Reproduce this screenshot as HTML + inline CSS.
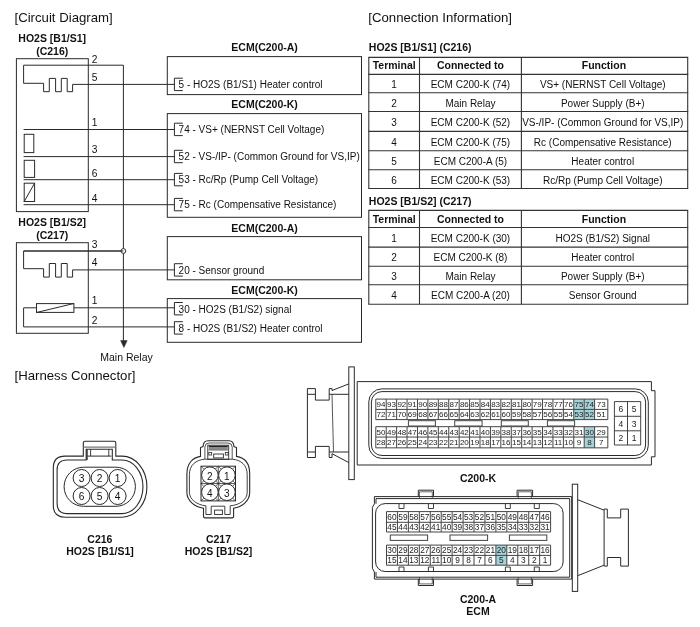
<!DOCTYPE html>
<html><head><meta charset="utf-8"><style>
html,body{margin:0;padding:0;background:#fff;}
svg{display:block;will-change:transform;}
</style></head><body>
<svg width="700" height="627" viewBox="0 0 700 627" font-family="'Liberation Sans', sans-serif">
<rect x="0" y="0" width="700" height="627" fill="#fff"/>
<text x="14.5" y="22.2" font-size="13.2" text-anchor="start" fill="#111">[Circuit Diagram]</text>
<text x="368.3" y="22.2" font-size="13.2" text-anchor="start" fill="#111">[Connection Information]</text>
<text x="14.5" y="380.3" font-size="13.2" text-anchor="start" fill="#111">[Harness Connector]</text>
<text x="52.2" y="41.8" font-size="10.5" font-weight="bold" text-anchor="middle" fill="#111">HO2S [B1/S1]</text>
<text x="52.2" y="54.6" font-size="10.5" font-weight="bold" text-anchor="middle" fill="#111">(C216)</text>
<text x="52.2" y="226.3" font-size="10.5" font-weight="bold" text-anchor="middle" fill="#111">HO2S [B1/S2]</text>
<text x="52.2" y="239.0" font-size="10.5" font-weight="bold" text-anchor="middle" fill="#111">(C217)</text>
<rect x="16.4" y="58.7" width="71.9" height="152.9" stroke="#2a2a2a" stroke-width="1" fill="none"/>
<rect x="16.4" y="242.7" width="71.9" height="90.6" stroke="#2a2a2a" stroke-width="1" fill="none"/>
<text x="91.8" y="62.8" font-size="10.2" text-anchor="start" fill="#111">2</text>
<text x="91.8" y="80.5" font-size="10.2" text-anchor="start" fill="#111">5</text>
<text x="91.8" y="125.8" font-size="10.2" text-anchor="start" fill="#111">1</text>
<text x="91.8" y="152.6" font-size="10.2" text-anchor="start" fill="#111">3</text>
<text x="91.8" y="177.0" font-size="10.2" text-anchor="start" fill="#111">6</text>
<text x="91.8" y="201.5" font-size="10.2" text-anchor="start" fill="#111">4</text>
<text x="91.8" y="247.8" font-size="10.2" text-anchor="start" fill="#111">3</text>
<text x="91.8" y="266.0" font-size="10.2" text-anchor="start" fill="#111">4</text>
<text x="91.8" y="304.3" font-size="10.2" text-anchor="start" fill="#111">1</text>
<text x="91.8" y="323.5" font-size="10.2" text-anchor="start" fill="#111">2</text>
<path d="M123.4,65.2 H23.6 V83.3 H43.6 V91.7 H49.3 V78.4 H55.6 V91.7 H61.3 V78.4 H67.2 V91.7 H72.6 V84.4 H174.4" stroke="#2a2a2a" stroke-width="1" fill="none"/>
<line x1="123.4" y1="65.2" x2="123.4" y2="341" stroke="#2a2a2a" stroke-width="1"/>
<path d="M120.6,340.6 L127.2,340.6 L123.9,347.6 Z" stroke="#2a2a2a" stroke-width="0.5" fill="#2a2a2a"/>
<text x="126.5" y="360.6" font-size="10.5" text-anchor="middle" fill="#111">Main Relay</text>
<line x1="23.6" y1="129.5" x2="174.4" y2="129.5" stroke="#2a2a2a" stroke-width="1"/>
<line x1="23.6" y1="156.6" x2="174.4" y2="156.6" stroke="#2a2a2a" stroke-width="1"/>
<line x1="23.6" y1="179.7" x2="174.4" y2="179.7" stroke="#2a2a2a" stroke-width="1"/>
<line x1="23.6" y1="204.7" x2="174.4" y2="204.7" stroke="#2a2a2a" stroke-width="1"/>
<rect x="24.2" y="134.3" width="9.6" height="18.3" stroke="#2a2a2a" stroke-width="1" fill="none"/>
<rect x="24.2" y="160.3" width="10.4" height="17.1" stroke="#2a2a2a" stroke-width="1" fill="none"/>
<rect x="24.2" y="183.2" width="10.4" height="18.3" stroke="#2a2a2a" stroke-width="1" fill="none"/>
<line x1="24.2" y1="201.5" x2="34.6" y2="183.2" stroke="#2a2a2a" stroke-width="1"/>
<line x1="23.6" y1="251" x2="121" y2="251" stroke="#2a2a2a" stroke-width="1"/>
<circle cx="123.4" cy="251" r="2.4" stroke="#2a2a2a" stroke-width="1" fill="#fff"/>
<path d="M123.4,251 H23.6 V268.7 H43.6 V277.1 H49.3 V263.5 H55.6 V277.1 H61.3 V263.5 H67.2 V277.1 H72.6 V269.9 H174.4" stroke="#2a2a2a" stroke-width="1" fill="none"/>
<rect x="36.5" y="303.6" width="37.4" height="8.8" stroke="#2a2a2a" stroke-width="1" fill="none"/>
<line x1="36.9" y1="312.4" x2="73.5" y2="303.6" stroke="#2a2a2a" stroke-width="1"/>
<line x1="23.6" y1="307.8" x2="36.5" y2="307.8" stroke="#2a2a2a" stroke-width="1"/>
<line x1="73.9" y1="307.8" x2="174.4" y2="307.8" stroke="#2a2a2a" stroke-width="1"/>
<path d="M23.6,307.8 V326.9 H174.4" stroke="#2a2a2a" stroke-width="1" fill="none"/>
<rect x="167.3" y="56.6" width="194.2" height="37.99999999999999" stroke="#2a2a2a" stroke-width="1" fill="none"/>
<text x="264.6" y="51.2" font-size="10.5" font-weight="bold" text-anchor="middle" fill="#111">ECM(C200-A)</text>
<rect x="167.3" y="113.6" width="194.2" height="103.70000000000002" stroke="#2a2a2a" stroke-width="1" fill="none"/>
<text x="264.6" y="108.1" font-size="10.5" font-weight="bold" text-anchor="middle" fill="#111">ECM(C200-K)</text>
<rect x="167.3" y="236.6" width="194.2" height="43.20000000000002" stroke="#2a2a2a" stroke-width="1" fill="none"/>
<text x="264.6" y="232.2" font-size="10.5" font-weight="bold" text-anchor="middle" fill="#111">ECM(C200-A)</text>
<rect x="167.3" y="298.6" width="194.2" height="43.69999999999999" stroke="#2a2a2a" stroke-width="1" fill="none"/>
<text x="264.6" y="293.8" font-size="10.5" font-weight="bold" text-anchor="middle" fill="#111">ECM(C200-K)</text>
<path d="M182.8,78.2 H174.4 V90.6 H182.8" stroke="#2a2a2a" stroke-width="1" fill="none"/>
<text x="178.6" y="88.2" font-size="10" text-anchor="start" fill="#111">5 - HO2S (B1/S1) Heater control</text>
<path d="M182.8,123.2 H174.4 V135.6 H182.8" stroke="#2a2a2a" stroke-width="1" fill="none"/>
<text x="178.6" y="133.2" font-size="10" text-anchor="start" fill="#111">74 - VS+ (NERNST Cell Voltage)</text>
<path d="M182.8,150.29999999999998 H174.4 V162.7 H182.8" stroke="#2a2a2a" stroke-width="1" fill="none"/>
<text x="178.6" y="160.29999999999998" font-size="10" text-anchor="start" fill="#111">52 - VS-/IP- (Common Ground for VS,IP)</text>
<path d="M182.8,173.39999999999998 H174.4 V185.79999999999998 H182.8" stroke="#2a2a2a" stroke-width="1" fill="none"/>
<text x="178.6" y="183.39999999999998" font-size="10" text-anchor="start" fill="#111">53 - Rc/Rp (Pump Cell Voltage)</text>
<path d="M182.8,198.39999999999998 H174.4 V210.79999999999998 H182.8" stroke="#2a2a2a" stroke-width="1" fill="none"/>
<text x="178.6" y="208.39999999999998" font-size="10" text-anchor="start" fill="#111">75 - Rc (Compensative Resistance)</text>
<path d="M182.8,263.7 H174.4 V276.1 H182.8" stroke="#2a2a2a" stroke-width="1" fill="none"/>
<text x="178.6" y="273.8" font-size="10" text-anchor="start" fill="#111">20 - Sensor ground</text>
<path d="M182.8,302.5 H174.4 V314.90000000000003 H182.8" stroke="#2a2a2a" stroke-width="1" fill="none"/>
<text x="178.6" y="312.8" font-size="10" text-anchor="start" fill="#111">30 - HO2S (B1/S2) signal</text>
<path d="M182.8,321.7 H174.4 V334.1 H182.8" stroke="#2a2a2a" stroke-width="1" fill="none"/>
<text x="178.6" y="331.59999999999997" font-size="10" text-anchor="start" fill="#111">8 - HO2S (B1/S2) Heater control</text>
<text x="368.8" y="50.7" font-size="10.5" font-weight="bold" text-anchor="start" fill="#111">HO2S [B1/S1] (C216)</text>
<line x1="368.3" y1="57.4" x2="688.2" y2="57.4" stroke="#333" stroke-width="1.1"/>
<line x1="368.3" y1="74.4" x2="688.2" y2="74.4" stroke="#333" stroke-width="1.1"/>
<line x1="368.3" y1="92.7" x2="688.2" y2="92.7" stroke="#333" stroke-width="1.1"/>
<line x1="368.3" y1="111.5" x2="688.2" y2="111.5" stroke="#333" stroke-width="1.1"/>
<line x1="368.3" y1="131.4" x2="688.2" y2="131.4" stroke="#333" stroke-width="1.1"/>
<line x1="368.3" y1="150.7" x2="688.2" y2="150.7" stroke="#333" stroke-width="1.1"/>
<line x1="368.3" y1="169.7" x2="688.2" y2="169.7" stroke="#333" stroke-width="1.1"/>
<line x1="368.3" y1="188.5" x2="688.2" y2="188.5" stroke="#333" stroke-width="1.1"/>
<line x1="368.8" y1="57.4" x2="368.8" y2="188.5" stroke="#333" stroke-width="1.1"/>
<line x1="419.5" y1="57.4" x2="419.5" y2="188.5" stroke="#333" stroke-width="1.1"/>
<line x1="521.4" y1="57.4" x2="521.4" y2="188.5" stroke="#333" stroke-width="1.1"/>
<line x1="687.7" y1="57.4" x2="687.7" y2="188.5" stroke="#333" stroke-width="1.1"/>
<text x="394.15" y="69.0" font-size="10.5" font-weight="bold" text-anchor="middle" fill="#111">Terminal</text>
<text x="470.45" y="69.0" font-size="10.5" font-weight="bold" text-anchor="middle" fill="#111">Connected to</text>
<text x="603.9499999999999" y="69.0" font-size="10.5" font-weight="bold" text-anchor="middle" fill="#111">Function</text>
<text x="394.15" y="88.05000000000001" font-size="10" text-anchor="middle" fill="#111">1</text>
<text x="470.45" y="88.05000000000001" font-size="10" text-anchor="middle" fill="#111">ECM C200-K (74)</text>
<text x="602.75" y="88.05000000000001" font-size="10" text-anchor="middle" fill="#111">VS+ (NERNST Cell Voltage)</text>
<text x="394.15" y="106.6" font-size="10" text-anchor="middle" fill="#111">2</text>
<text x="470.45" y="106.6" font-size="10" text-anchor="middle" fill="#111">Main Relay</text>
<text x="602.75" y="106.6" font-size="10" text-anchor="middle" fill="#111">Power Supply (B+)</text>
<text x="394.15" y="125.95" font-size="10" text-anchor="middle" fill="#111">3</text>
<text x="470.45" y="125.95" font-size="10" text-anchor="middle" fill="#111">ECM C200-K (52)</text>
<text x="602.75" y="125.95" font-size="10" text-anchor="middle" fill="#111">VS-/IP- (Common Ground for VS,IP)</text>
<text x="394.15" y="145.55" font-size="10" text-anchor="middle" fill="#111">4</text>
<text x="470.45" y="145.55" font-size="10" text-anchor="middle" fill="#111">ECM C200-K (75)</text>
<text x="602.75" y="145.55" font-size="10" text-anchor="middle" fill="#111">Rc (Compensative Resistance)</text>
<text x="394.15" y="164.7" font-size="10" text-anchor="middle" fill="#111">5</text>
<text x="470.45" y="164.7" font-size="10" text-anchor="middle" fill="#111">ECM C200-A (5)</text>
<text x="602.75" y="164.7" font-size="10" text-anchor="middle" fill="#111">Heater control</text>
<text x="394.15" y="183.6" font-size="10" text-anchor="middle" fill="#111">6</text>
<text x="470.45" y="183.6" font-size="10" text-anchor="middle" fill="#111">ECM C200-K (53)</text>
<text x="602.75" y="183.6" font-size="10" text-anchor="middle" fill="#111">Rc/Rp (Pump Cell Voltage)</text>
<text x="368.8" y="205.2" font-size="10.5" font-weight="bold" text-anchor="start" fill="#111">HO2S [B1/S2] (C217)</text>
<line x1="368.3" y1="210.4" x2="688.2" y2="210.4" stroke="#333" stroke-width="1.1"/>
<line x1="368.3" y1="227.5" x2="688.2" y2="227.5" stroke="#333" stroke-width="1.1"/>
<line x1="368.3" y1="247.1" x2="688.2" y2="247.1" stroke="#333" stroke-width="1.1"/>
<line x1="368.3" y1="266.2" x2="688.2" y2="266.2" stroke="#333" stroke-width="1.1"/>
<line x1="368.3" y1="284.8" x2="688.2" y2="284.8" stroke="#333" stroke-width="1.1"/>
<line x1="368.3" y1="304.2" x2="688.2" y2="304.2" stroke="#333" stroke-width="1.1"/>
<line x1="368.8" y1="210.4" x2="368.8" y2="304.2" stroke="#333" stroke-width="1.1"/>
<line x1="419.5" y1="210.4" x2="419.5" y2="304.2" stroke="#333" stroke-width="1.1"/>
<line x1="521.4" y1="210.4" x2="521.4" y2="304.2" stroke="#333" stroke-width="1.1"/>
<line x1="687.7" y1="210.4" x2="687.7" y2="304.2" stroke="#333" stroke-width="1.1"/>
<text x="394.15" y="223.14999999999998" font-size="10.5" font-weight="bold" text-anchor="middle" fill="#111">Terminal</text>
<text x="470.45" y="223.14999999999998" font-size="10.5" font-weight="bold" text-anchor="middle" fill="#111">Connected to</text>
<text x="603.9499999999999" y="223.14999999999998" font-size="10.5" font-weight="bold" text-anchor="middle" fill="#111">Function</text>
<text x="394.15" y="241.8" font-size="10" text-anchor="middle" fill="#111">1</text>
<text x="470.45" y="241.8" font-size="10" text-anchor="middle" fill="#111">ECM C200-K (30)</text>
<text x="602.75" y="241.8" font-size="10" text-anchor="middle" fill="#111">HO2S (B1/S2) Signal</text>
<text x="394.15" y="261.15" font-size="10" text-anchor="middle" fill="#111">2</text>
<text x="470.45" y="261.15" font-size="10" text-anchor="middle" fill="#111">ECM C200-K (8)</text>
<text x="602.75" y="261.15" font-size="10" text-anchor="middle" fill="#111">Heater control</text>
<text x="394.15" y="280.0" font-size="10" text-anchor="middle" fill="#111">3</text>
<text x="470.45" y="280.0" font-size="10" text-anchor="middle" fill="#111">Main Relay</text>
<text x="602.75" y="280.0" font-size="10" text-anchor="middle" fill="#111">Power Supply (B+)</text>
<text x="394.15" y="299.0" font-size="10" text-anchor="middle" fill="#111">4</text>
<text x="470.45" y="299.0" font-size="10" text-anchor="middle" fill="#111">ECM C200-A (20)</text>
<text x="602.75" y="299.0" font-size="10" text-anchor="middle" fill="#111">Sensor Ground</text>
<path d="M53.3,468 Q53.3,456.1 65,456.1 H83.3 V442.8 Q83.3,441.2 85,441.2 H114.1 Q115.8,441.2 115.8,442.8 V456.1 H122 A24.9,30.55 0 0 1 122,517.2 H65 Q53.3,517.2 53.3,505.5 Z" stroke="#2a2a2a" stroke-width="1.1" fill="none"/>
<path d="M57.1,470 Q57.1,460 67,460 H86.2 V449.2 H112.3 V460 H122 A21,26.8 0 0 1 122,513.6 H67 Q57.1,513.6 57.1,503.6 Z" stroke="#2a2a2a" stroke-width="1.1" fill="none"/>
<line x1="83.3" y1="447.1" x2="115.8" y2="447.1" stroke="#777" stroke-width="1.3"/>
<line x1="87" y1="449.2" x2="87" y2="460" stroke="#2a2a2a" stroke-width="1.4"/>
<line x1="90.6" y1="449.2" x2="90.6" y2="456.1" stroke="#2a2a2a" stroke-width="0.9"/>
<line x1="108.8" y1="449.2" x2="108.8" y2="456.1" stroke="#2a2a2a" stroke-width="0.9"/>
<line x1="87.4" y1="456.1" x2="111.3" y2="456.1" stroke="#2a2a2a" stroke-width="1"/>
<rect x="64.1" y="467.2" width="71.3" height="39.1" stroke="#2a2a2a" stroke-width="1" fill="none" rx="19.5"/>
<circle cx="81.6" cy="478" r="8.5" stroke="#2a2a2a" stroke-width="1" fill="#fff"/>
<text x="81.6" y="482.1" font-size="10.2" text-anchor="middle" fill="#111">3</text>
<circle cx="99.6" cy="478" r="8.5" stroke="#2a2a2a" stroke-width="1" fill="#fff"/>
<text x="99.6" y="482.1" font-size="10.2" text-anchor="middle" fill="#111">2</text>
<circle cx="117.6" cy="478" r="8.5" stroke="#2a2a2a" stroke-width="1" fill="#fff"/>
<text x="117.6" y="482.1" font-size="10.2" text-anchor="middle" fill="#111">1</text>
<circle cx="81.6" cy="496" r="8.5" stroke="#2a2a2a" stroke-width="1" fill="#fff"/>
<text x="81.6" y="500.1" font-size="10.2" text-anchor="middle" fill="#111">6</text>
<circle cx="99.6" cy="496" r="8.5" stroke="#2a2a2a" stroke-width="1" fill="#fff"/>
<text x="99.6" y="500.1" font-size="10.2" text-anchor="middle" fill="#111">5</text>
<circle cx="117.6" cy="496" r="8.5" stroke="#2a2a2a" stroke-width="1" fill="#fff"/>
<text x="117.6" y="500.1" font-size="10.2" text-anchor="middle" fill="#111">4</text>
<text x="99.9" y="542.6" font-size="10.5" font-weight="bold" text-anchor="middle" fill="#111">C216</text>
<text x="100" y="555.4" font-size="10.5" font-weight="bold" text-anchor="middle" fill="#111">HO2S [B1/S1]</text>
<path d="M200.5,456.4 V447.5 L203,446.5 Q203.5,440.7 208,440.7 H229 Q233.5,440.7 234,446.5 L236.5,447.5 V456.4 C244,457.5 249.7,463 249.7,474 V492.6 C249.7,501 242,507 233.6,508.2 V516.4 Q233.6,517.9 231.2,517.9 H205.9 Q203.5,517.9 203.5,516.4 V508.2 C195,507 186.9,501 186.9,492.6 V474 C186.9,463 193,457.5 200.5,456.4 Z" stroke="#2a2a2a" stroke-width="1.1" fill="none"/>
<path d="M204.5,459.2 H232.5 C241,460 247.2,465 247.2,474.5 V492.3 C247.2,499.5 240,505 230.2,505.8 V514.5 H224.8 V506.2 H211.2 V514.5 H205.9 V505.8 C197,505 189.4,499.5 189.4,492.3 V474.5 C189.4,465 196,460 204.5,459.2 Z" stroke="#2a2a2a" stroke-width="0.9" fill="none"/>
<path d="M204.9,459.2 V447 Q205,443 209,443 H228 Q232,443 232.2,447 V459.2" stroke="#2a2a2a" stroke-width="0.8" fill="none"/>
<rect x="207.8" y="445.2" width="20.9" height="14.1" stroke="#2a2a2a" stroke-width="0.9" fill="none"/>
<rect x="208.8" y="445.7" width="19" height="1.3" stroke="#2a2a2a" stroke-width="0" fill="#222"/>
<rect x="208.8" y="447" width="19" height="2.2" stroke="#2a2a2a" stroke-width="0" fill="#8a8a8a"/>
<line x1="208.8" y1="449.9" x2="227.8" y2="449.9" stroke="#2a2a2a" stroke-width="0.9"/>
<rect x="208.8" y="452.5" width="2.9" height="2.5" stroke="#2a2a2a" stroke-width="0.8" fill="none"/>
<rect x="225.3" y="452.5" width="2.9" height="2.5" stroke="#2a2a2a" stroke-width="0.8" fill="none"/>
<rect x="213.7" y="454" width="9.7" height="3.9" stroke="#2a2a2a" stroke-width="0.9" fill="none"/>
<rect x="214.6" y="510.1" width="7.8" height="4.4" stroke="#2a2a2a" stroke-width="0.9" fill="none"/>
<rect x="201" y="466.2" width="34.5" height="34.7" stroke="#2a2a2a" stroke-width="1" fill="none"/>
<line x1="218.25" y1="466.2" x2="218.25" y2="500.9" stroke="#2a2a2a" stroke-width="0.8"/>
<line x1="201" y1="483.55" x2="235.5" y2="483.55" stroke="#2a2a2a" stroke-width="0.8"/>
<line x1="201" y1="466.2" x2="218.25" y2="483.55" stroke="#2a2a2a" stroke-width="0.7"/>
<line x1="218.25" y1="466.2" x2="201" y2="483.55" stroke="#2a2a2a" stroke-width="0.7"/>
<line x1="218.25" y1="466.2" x2="235.5" y2="483.55" stroke="#2a2a2a" stroke-width="0.7"/>
<line x1="235.5" y1="466.2" x2="218.25" y2="483.55" stroke="#2a2a2a" stroke-width="0.7"/>
<line x1="201" y1="483.55" x2="218.25" y2="500.9" stroke="#2a2a2a" stroke-width="0.7"/>
<line x1="218.25" y1="483.55" x2="201" y2="500.9" stroke="#2a2a2a" stroke-width="0.7"/>
<line x1="218.25" y1="483.55" x2="235.5" y2="500.9" stroke="#2a2a2a" stroke-width="0.7"/>
<line x1="235.5" y1="483.55" x2="218.25" y2="500.9" stroke="#2a2a2a" stroke-width="0.7"/>
<circle cx="209.9" cy="475.2" r="8.3" stroke="#2a2a2a" stroke-width="1" fill="#fff"/>
<text x="209.9" y="479.7" font-size="10" text-anchor="middle" fill="#111">2</text>
<circle cx="226.9" cy="475.2" r="8.3" stroke="#2a2a2a" stroke-width="1" fill="#fff"/>
<text x="226.9" y="479.7" font-size="10" text-anchor="middle" fill="#111">1</text>
<circle cx="209.9" cy="492.2" r="8.3" stroke="#2a2a2a" stroke-width="1" fill="#fff"/>
<text x="209.9" y="496.7" font-size="10" text-anchor="middle" fill="#111">4</text>
<circle cx="226.9" cy="492.2" r="8.3" stroke="#2a2a2a" stroke-width="1" fill="#fff"/>
<text x="226.9" y="496.7" font-size="10" text-anchor="middle" fill="#111">3</text>
<text x="218.5" y="542.5" font-size="10.5" font-weight="bold" text-anchor="middle" fill="#111">C217</text>
<text x="218.5" y="555.3" font-size="10.5" font-weight="bold" text-anchor="middle" fill="#111">HO2S [B1/S2]</text>
<rect x="348.8" y="366.9" width="5.5" height="112.7" stroke="#2a2a2a" stroke-width="1" fill="none"/>
<path d="M357.2,381.6 H651.4 V390.7 H655 V456.8 H651.4 V465 H357.2 Z" stroke="#2a2a2a" stroke-width="1" fill="none"/>
<rect x="368.8" y="388.9" width="279.5" height="69.5" stroke="#2a2a2a" stroke-width="1" fill="none" rx="13"/>
<rect x="371.4" y="391.6" width="274.2" height="63.9" stroke="#2a2a2a" stroke-width="1" fill="none" rx="10.5"/>
<path d="M348.8,383.9 L332,390.5 V388.6 H329.2 V400.1 H315.4 V388.6 H307.4 V457.5 H315.4 V446.4 H329.2 V457.5 H332 V453.7 L348.8,462.6" stroke="#2a2a2a" stroke-width="1" fill="none"/>
<line x1="307.4" y1="394.3" x2="315.4" y2="394.3" stroke="#2a2a2a" stroke-width="1"/>
<line x1="329.2" y1="394.3" x2="348.8" y2="394.3" stroke="#2a2a2a" stroke-width="1"/>
<line x1="307.4" y1="452" x2="315.4" y2="452" stroke="#2a2a2a" stroke-width="1"/>
<line x1="329.2" y1="452" x2="348.8" y2="452" stroke="#2a2a2a" stroke-width="1"/>
<line x1="332" y1="394.3" x2="333.5" y2="452" stroke="#2a2a2a" stroke-width="0.8"/>
<rect x="573.78" y="399.1" width="10.420000000000073" height="10.299999999999955" fill="#a3d2da"/>
<rect x="584.2" y="399.1" width="10.419999999999959" height="10.299999999999955" fill="#a3d2da"/>
<rect x="573.78" y="409.4" width="10.420000000000073" height="10.200000000000045" fill="#a3d2da"/>
<rect x="584.2" y="409.4" width="10.419999999999959" height="10.200000000000045" fill="#a3d2da"/>
<line x1="375.8" y1="399.1" x2="607.82" y2="399.1" stroke="#444" stroke-width="1"/>
<line x1="375.8" y1="409.4" x2="607.82" y2="409.4" stroke="#444" stroke-width="1"/>
<line x1="375.8" y1="419.6" x2="607.82" y2="419.6" stroke="#444" stroke-width="1"/>
<line x1="375.8" y1="399.1" x2="375.8" y2="419.6" stroke="#444" stroke-width="1"/>
<line x1="386.22" y1="399.1" x2="386.22" y2="419.6" stroke="#444" stroke-width="1"/>
<line x1="396.64" y1="399.1" x2="396.64" y2="419.6" stroke="#444" stroke-width="1"/>
<line x1="407.06" y1="399.1" x2="407.06" y2="419.6" stroke="#444" stroke-width="1"/>
<line x1="417.48" y1="399.1" x2="417.48" y2="419.6" stroke="#444" stroke-width="1"/>
<line x1="427.90000000000003" y1="399.1" x2="427.90000000000003" y2="419.6" stroke="#444" stroke-width="1"/>
<line x1="438.32" y1="399.1" x2="438.32" y2="419.6" stroke="#444" stroke-width="1"/>
<line x1="448.74" y1="399.1" x2="448.74" y2="419.6" stroke="#444" stroke-width="1"/>
<line x1="459.16" y1="399.1" x2="459.16" y2="419.6" stroke="#444" stroke-width="1"/>
<line x1="469.58000000000004" y1="399.1" x2="469.58000000000004" y2="419.6" stroke="#444" stroke-width="1"/>
<line x1="480.0" y1="399.1" x2="480.0" y2="419.6" stroke="#444" stroke-width="1"/>
<line x1="490.42" y1="399.1" x2="490.42" y2="419.6" stroke="#444" stroke-width="1"/>
<line x1="500.84000000000003" y1="399.1" x2="500.84000000000003" y2="419.6" stroke="#444" stroke-width="1"/>
<line x1="511.26" y1="399.1" x2="511.26" y2="419.6" stroke="#444" stroke-width="1"/>
<line x1="521.6800000000001" y1="399.1" x2="521.6800000000001" y2="419.6" stroke="#444" stroke-width="1"/>
<line x1="532.1" y1="399.1" x2="532.1" y2="419.6" stroke="#444" stroke-width="1"/>
<line x1="542.52" y1="399.1" x2="542.52" y2="419.6" stroke="#444" stroke-width="1"/>
<line x1="552.94" y1="399.1" x2="552.94" y2="419.6" stroke="#444" stroke-width="1"/>
<line x1="563.36" y1="399.1" x2="563.36" y2="419.6" stroke="#444" stroke-width="1"/>
<line x1="573.78" y1="399.1" x2="573.78" y2="419.6" stroke="#444" stroke-width="1"/>
<line x1="584.2" y1="399.1" x2="584.2" y2="419.6" stroke="#444" stroke-width="1"/>
<line x1="594.62" y1="399.1" x2="594.62" y2="419.6" stroke="#444" stroke-width="1"/>
<line x1="607.82" y1="399.1" x2="607.82" y2="419.6" stroke="#444" stroke-width="1"/>
<text x="381.01" y="407.21" font-size="8.0" text-anchor="middle" fill="#222">94</text>
<text x="391.43" y="407.21" font-size="8.0" text-anchor="middle" fill="#222">93</text>
<text x="401.85" y="407.21" font-size="8.0" text-anchor="middle" fill="#222">92</text>
<text x="412.27" y="407.21" font-size="8.0" text-anchor="middle" fill="#222">91</text>
<text x="422.69" y="407.21" font-size="8.0" text-anchor="middle" fill="#222">90</text>
<text x="433.11" y="407.21" font-size="8.0" text-anchor="middle" fill="#222">89</text>
<text x="443.53" y="407.21" font-size="8.0" text-anchor="middle" fill="#222">88</text>
<text x="453.95" y="407.21" font-size="8.0" text-anchor="middle" fill="#222">87</text>
<text x="464.37" y="407.21" font-size="8.0" text-anchor="middle" fill="#222">86</text>
<text x="474.79" y="407.21" font-size="8.0" text-anchor="middle" fill="#222">85</text>
<text x="485.21" y="407.21" font-size="8.0" text-anchor="middle" fill="#222">84</text>
<text x="495.63" y="407.21" font-size="8.0" text-anchor="middle" fill="#222">83</text>
<text x="506.05" y="407.21" font-size="8.0" text-anchor="middle" fill="#222">82</text>
<text x="516.47" y="407.21" font-size="8.0" text-anchor="middle" fill="#222">81</text>
<text x="526.89" y="407.21" font-size="8.0" text-anchor="middle" fill="#222">80</text>
<text x="537.31" y="407.21" font-size="8.0" text-anchor="middle" fill="#222">79</text>
<text x="547.73" y="407.21" font-size="8.0" text-anchor="middle" fill="#222">78</text>
<text x="558.15" y="407.21" font-size="8.0" text-anchor="middle" fill="#222">77</text>
<text x="568.57" y="407.21" font-size="8.0" text-anchor="middle" fill="#222">76</text>
<text x="578.99" y="407.21" font-size="8.0" text-anchor="middle" fill="#222">75</text>
<text x="589.41" y="407.21" font-size="8.0" text-anchor="middle" fill="#222">74</text>
<text x="601.22" y="407.21" font-size="8.0" text-anchor="middle" fill="#222">73</text>
<text x="381.01" y="417.46" font-size="8.0" text-anchor="middle" fill="#222">72</text>
<text x="391.43" y="417.46" font-size="8.0" text-anchor="middle" fill="#222">71</text>
<text x="401.85" y="417.46" font-size="8.0" text-anchor="middle" fill="#222">70</text>
<text x="412.27" y="417.46" font-size="8.0" text-anchor="middle" fill="#222">69</text>
<text x="422.69" y="417.46" font-size="8.0" text-anchor="middle" fill="#222">68</text>
<text x="433.11" y="417.46" font-size="8.0" text-anchor="middle" fill="#222">67</text>
<text x="443.53" y="417.46" font-size="8.0" text-anchor="middle" fill="#222">66</text>
<text x="453.95" y="417.46" font-size="8.0" text-anchor="middle" fill="#222">65</text>
<text x="464.37" y="417.46" font-size="8.0" text-anchor="middle" fill="#222">64</text>
<text x="474.79" y="417.46" font-size="8.0" text-anchor="middle" fill="#222">63</text>
<text x="485.21" y="417.46" font-size="8.0" text-anchor="middle" fill="#222">62</text>
<text x="495.63" y="417.46" font-size="8.0" text-anchor="middle" fill="#222">61</text>
<text x="506.05" y="417.46" font-size="8.0" text-anchor="middle" fill="#222">60</text>
<text x="516.47" y="417.46" font-size="8.0" text-anchor="middle" fill="#222">59</text>
<text x="526.89" y="417.46" font-size="8.0" text-anchor="middle" fill="#222">58</text>
<text x="537.31" y="417.46" font-size="8.0" text-anchor="middle" fill="#222">57</text>
<text x="547.73" y="417.46" font-size="8.0" text-anchor="middle" fill="#222">56</text>
<text x="558.15" y="417.46" font-size="8.0" text-anchor="middle" fill="#222">55</text>
<text x="568.57" y="417.46" font-size="8.0" text-anchor="middle" fill="#222">54</text>
<text x="578.99" y="417.46" font-size="8.0" text-anchor="middle" fill="#222">53</text>
<text x="589.41" y="417.46" font-size="8.0" text-anchor="middle" fill="#222">52</text>
<text x="601.22" y="417.46" font-size="8.0" text-anchor="middle" fill="#222">51</text>
<rect x="584.2" y="426.7" width="10.419999999999959" height="10.350000000000023" fill="#a3d2da"/>
<rect x="584.2" y="437.05" width="10.419999999999959" height="10.800000000000011" fill="#a3d2da"/>
<line x1="375.8" y1="426.7" x2="607.82" y2="426.7" stroke="#444" stroke-width="1"/>
<line x1="375.8" y1="437.05" x2="607.82" y2="437.05" stroke="#444" stroke-width="1"/>
<line x1="375.8" y1="447.85" x2="607.82" y2="447.85" stroke="#444" stroke-width="1"/>
<line x1="375.8" y1="426.7" x2="375.8" y2="447.85" stroke="#444" stroke-width="1"/>
<line x1="386.22" y1="426.7" x2="386.22" y2="447.85" stroke="#444" stroke-width="1"/>
<line x1="396.64" y1="426.7" x2="396.64" y2="447.85" stroke="#444" stroke-width="1"/>
<line x1="407.06" y1="426.7" x2="407.06" y2="447.85" stroke="#444" stroke-width="1"/>
<line x1="417.48" y1="426.7" x2="417.48" y2="447.85" stroke="#444" stroke-width="1"/>
<line x1="427.90000000000003" y1="426.7" x2="427.90000000000003" y2="447.85" stroke="#444" stroke-width="1"/>
<line x1="438.32" y1="426.7" x2="438.32" y2="447.85" stroke="#444" stroke-width="1"/>
<line x1="448.74" y1="426.7" x2="448.74" y2="447.85" stroke="#444" stroke-width="1"/>
<line x1="459.16" y1="426.7" x2="459.16" y2="447.85" stroke="#444" stroke-width="1"/>
<line x1="469.58000000000004" y1="426.7" x2="469.58000000000004" y2="447.85" stroke="#444" stroke-width="1"/>
<line x1="480.0" y1="426.7" x2="480.0" y2="447.85" stroke="#444" stroke-width="1"/>
<line x1="490.42" y1="426.7" x2="490.42" y2="447.85" stroke="#444" stroke-width="1"/>
<line x1="500.84000000000003" y1="426.7" x2="500.84000000000003" y2="447.85" stroke="#444" stroke-width="1"/>
<line x1="511.26" y1="426.7" x2="511.26" y2="447.85" stroke="#444" stroke-width="1"/>
<line x1="521.6800000000001" y1="426.7" x2="521.6800000000001" y2="447.85" stroke="#444" stroke-width="1"/>
<line x1="532.1" y1="426.7" x2="532.1" y2="447.85" stroke="#444" stroke-width="1"/>
<line x1="542.52" y1="426.7" x2="542.52" y2="447.85" stroke="#444" stroke-width="1"/>
<line x1="552.94" y1="426.7" x2="552.94" y2="447.85" stroke="#444" stroke-width="1"/>
<line x1="563.36" y1="426.7" x2="563.36" y2="447.85" stroke="#444" stroke-width="1"/>
<line x1="573.78" y1="426.7" x2="573.78" y2="447.85" stroke="#444" stroke-width="1"/>
<line x1="584.2" y1="426.7" x2="584.2" y2="447.85" stroke="#444" stroke-width="1"/>
<line x1="594.62" y1="426.7" x2="594.62" y2="447.85" stroke="#444" stroke-width="1"/>
<line x1="607.82" y1="426.7" x2="607.82" y2="447.85" stroke="#444" stroke-width="1"/>
<text x="381.01" y="434.83" font-size="8.0" text-anchor="middle" fill="#222">50</text>
<text x="391.43" y="434.83" font-size="8.0" text-anchor="middle" fill="#222">49</text>
<text x="401.85" y="434.83" font-size="8.0" text-anchor="middle" fill="#222">48</text>
<text x="412.27" y="434.83" font-size="8.0" text-anchor="middle" fill="#222">47</text>
<text x="422.69" y="434.83" font-size="8.0" text-anchor="middle" fill="#222">46</text>
<text x="433.11" y="434.83" font-size="8.0" text-anchor="middle" fill="#222">45</text>
<text x="443.53" y="434.83" font-size="8.0" text-anchor="middle" fill="#222">44</text>
<text x="453.95" y="434.83" font-size="8.0" text-anchor="middle" fill="#222">43</text>
<text x="464.37" y="434.83" font-size="8.0" text-anchor="middle" fill="#222">42</text>
<text x="474.79" y="434.83" font-size="8.0" text-anchor="middle" fill="#222">41</text>
<text x="485.21" y="434.83" font-size="8.0" text-anchor="middle" fill="#222">40</text>
<text x="495.63" y="434.83" font-size="8.0" text-anchor="middle" fill="#222">39</text>
<text x="506.05" y="434.83" font-size="8.0" text-anchor="middle" fill="#222">38</text>
<text x="516.47" y="434.83" font-size="8.0" text-anchor="middle" fill="#222">37</text>
<text x="526.89" y="434.83" font-size="8.0" text-anchor="middle" fill="#222">36</text>
<text x="537.31" y="434.83" font-size="8.0" text-anchor="middle" fill="#222">35</text>
<text x="547.73" y="434.83" font-size="8.0" text-anchor="middle" fill="#222">34</text>
<text x="558.15" y="434.83" font-size="8.0" text-anchor="middle" fill="#222">33</text>
<text x="568.57" y="434.83" font-size="8.0" text-anchor="middle" fill="#222">32</text>
<text x="578.99" y="434.83" font-size="8.0" text-anchor="middle" fill="#222">31</text>
<text x="589.41" y="434.83" font-size="8.0" text-anchor="middle" fill="#222">30</text>
<text x="601.22" y="434.83" font-size="8.0" text-anchor="middle" fill="#222">29</text>
<text x="381.01" y="445.41" font-size="8.0" text-anchor="middle" fill="#222">28</text>
<text x="391.43" y="445.41" font-size="8.0" text-anchor="middle" fill="#222">27</text>
<text x="401.85" y="445.41" font-size="8.0" text-anchor="middle" fill="#222">26</text>
<text x="412.27" y="445.41" font-size="8.0" text-anchor="middle" fill="#222">25</text>
<text x="422.69" y="445.41" font-size="8.0" text-anchor="middle" fill="#222">24</text>
<text x="433.11" y="445.41" font-size="8.0" text-anchor="middle" fill="#222">23</text>
<text x="443.53" y="445.41" font-size="8.0" text-anchor="middle" fill="#222">22</text>
<text x="453.95" y="445.41" font-size="8.0" text-anchor="middle" fill="#222">21</text>
<text x="464.37" y="445.41" font-size="8.0" text-anchor="middle" fill="#222">20</text>
<text x="474.79" y="445.41" font-size="8.0" text-anchor="middle" fill="#222">19</text>
<text x="485.21" y="445.41" font-size="8.0" text-anchor="middle" fill="#222">18</text>
<text x="495.63" y="445.41" font-size="8.0" text-anchor="middle" fill="#222">17</text>
<text x="506.05" y="445.41" font-size="8.0" text-anchor="middle" fill="#222">16</text>
<text x="516.47" y="445.41" font-size="8.0" text-anchor="middle" fill="#222">15</text>
<text x="526.89" y="445.41" font-size="8.0" text-anchor="middle" fill="#222">14</text>
<text x="537.31" y="445.41" font-size="8.0" text-anchor="middle" fill="#222">13</text>
<text x="547.73" y="445.41" font-size="8.0" text-anchor="middle" fill="#222">12</text>
<text x="558.15" y="445.41" font-size="8.0" text-anchor="middle" fill="#222">11</text>
<text x="568.57" y="445.41" font-size="8.0" text-anchor="middle" fill="#222">10</text>
<text x="578.99" y="445.41" font-size="8.0" text-anchor="middle" fill="#222">9</text>
<text x="589.41" y="445.41" font-size="8.0" text-anchor="middle" fill="#222">8</text>
<text x="601.22" y="445.41" font-size="8.0" text-anchor="middle" fill="#222">7</text>
<rect x="408.4" y="420.7" width="27.0" height="5.3" stroke="#444" stroke-width="1" fill="none"/>
<rect x="454.7" y="420.7" width="27.400000000000034" height="5.3" stroke="#444" stroke-width="1" fill="none"/>
<rect x="501.3" y="420.7" width="26.999999999999943" height="5.3" stroke="#444" stroke-width="1" fill="none"/>
<rect x="547.4" y="420.7" width="27.200000000000045" height="5.3" stroke="#444" stroke-width="1" fill="none"/>
<line x1="614.4" y1="401.6" x2="614.4" y2="445.0" stroke="#444" stroke-width="1"/>
<line x1="627.5" y1="401.6" x2="627.5" y2="445.0" stroke="#444" stroke-width="1"/>
<line x1="640.7" y1="401.6" x2="640.7" y2="445.0" stroke="#444" stroke-width="1"/>
<line x1="614.4" y1="401.6" x2="640.7" y2="401.6" stroke="#444" stroke-width="1"/>
<line x1="614.4" y1="416.3" x2="640.7" y2="416.3" stroke="#444" stroke-width="1"/>
<line x1="614.4" y1="430.8" x2="640.7" y2="430.8" stroke="#444" stroke-width="1"/>
<line x1="614.4" y1="445.0" x2="640.7" y2="445.0" stroke="#444" stroke-width="1"/>
<text x="620.95" y="411.95000000000005" font-size="8.5" text-anchor="middle" fill="#222">6</text>
<text x="634.1" y="411.95000000000005" font-size="8.5" text-anchor="middle" fill="#222">5</text>
<text x="620.95" y="426.55" font-size="8.5" text-anchor="middle" fill="#222">4</text>
<text x="634.1" y="426.55" font-size="8.5" text-anchor="middle" fill="#222">3</text>
<text x="620.95" y="440.9" font-size="8.5" text-anchor="middle" fill="#222">2</text>
<text x="634.1" y="440.9" font-size="8.5" text-anchor="middle" fill="#222">1</text>
<text x="478" y="482.3" font-size="10.5" font-weight="bold" text-anchor="middle" fill="#111">C200-K</text>
<rect x="572.3" y="484.2" width="5.4" height="107.2" stroke="#2a2a2a" stroke-width="1" fill="none"/>
<path d="M374.4,496.6 H571.7 V579.1 H374.4 V572 L372.4,568.3 V507.4 L374.4,503.8 Z" stroke="#2a2a2a" stroke-width="1" fill="none"/>
<path d="M376,503.8 V498.6 H569.7 V577.2 H376 V572" stroke="#2a2a2a" stroke-width="1" fill="none"/>
<path d="M418.3,496.5 V490.2 H433.5 V496.5" stroke="#2a2a2a" stroke-width="1" fill="none"/>
<path d="M419.5,498.4 V491.8 H432.3 V498.4" stroke="#2a2a2a" stroke-width="0.7" fill="none"/>
<path d="M418.3,579.1 V585.5 H433.5 V579.1" stroke="#2a2a2a" stroke-width="1" fill="none"/>
<path d="M419.5,577.2 V583.9 H432.3 V577.2" stroke="#2a2a2a" stroke-width="0.7" fill="none"/>
<path d="M517.1,496.5 V490.2 H532.6 V496.5" stroke="#2a2a2a" stroke-width="1" fill="none"/>
<path d="M518.3000000000001,498.4 V491.8 H531.4 V498.4" stroke="#2a2a2a" stroke-width="0.7" fill="none"/>
<path d="M517.1,579.1 V585.5 H532.6 V579.1" stroke="#2a2a2a" stroke-width="1" fill="none"/>
<path d="M518.3000000000001,577.2 V583.9 H531.4 V577.2" stroke="#2a2a2a" stroke-width="0.7" fill="none"/>
<rect x="375.6" y="503.6" width="187.5" height="67.9" stroke="#2a2a2a" stroke-width="1" fill="none" rx="9.5"/>
<path d="M399,503.7 V508.5 H404 V503.7" stroke="#2a2a2a" stroke-width="0.9" fill="none"/>
<path d="M399,571.8 V567 H404 V571.8" stroke="#2a2a2a" stroke-width="0.9" fill="none"/>
<path d="M428.4,503.7 V508.5 H433.5 V503.7" stroke="#2a2a2a" stroke-width="0.9" fill="none"/>
<path d="M428.4,571.8 V567 H433.5 V571.8" stroke="#2a2a2a" stroke-width="0.9" fill="none"/>
<path d="M505.4,503.7 V508.5 H510.3 V503.7" stroke="#2a2a2a" stroke-width="0.9" fill="none"/>
<path d="M505.4,571.8 V567 H510.3 V571.8" stroke="#2a2a2a" stroke-width="0.9" fill="none"/>
<path d="M534.3,503.7 V508.5 H539.3 V503.7" stroke="#2a2a2a" stroke-width="0.9" fill="none"/>
<path d="M534.3,571.8 V567 H539.3 V571.8" stroke="#2a2a2a" stroke-width="0.9" fill="none"/>
<path d="M577.7,499.7 L604.1,510.2 V509.1 H607.3 V517.9 H620.7 V509.1 H628.4 V566.1 H620.7 V557.5 H607.3 V566.1 H604.1 V565.2 L577.7,575.7" stroke="#2a2a2a" stroke-width="1" fill="none"/>
<line x1="604.1" y1="510.2" x2="604.1" y2="565.2" stroke="#2a2a2a" stroke-width="1"/>
<line x1="386.5" y1="511.6" x2="550.6" y2="511.6" stroke="#444" stroke-width="1"/>
<line x1="386.5" y1="522.3" x2="550.6" y2="522.3" stroke="#444" stroke-width="1"/>
<line x1="386.5" y1="532" x2="550.6" y2="532" stroke="#444" stroke-width="1"/>
<line x1="386.5" y1="511.6" x2="386.5" y2="532" stroke="#444" stroke-width="1"/>
<line x1="397.44" y1="511.6" x2="397.44" y2="532" stroke="#444" stroke-width="1"/>
<line x1="408.38" y1="511.6" x2="408.38" y2="532" stroke="#444" stroke-width="1"/>
<line x1="419.32" y1="511.6" x2="419.32" y2="532" stroke="#444" stroke-width="1"/>
<line x1="430.26" y1="511.6" x2="430.26" y2="532" stroke="#444" stroke-width="1"/>
<line x1="441.2" y1="511.6" x2="441.2" y2="532" stroke="#444" stroke-width="1"/>
<line x1="452.14" y1="511.6" x2="452.14" y2="532" stroke="#444" stroke-width="1"/>
<line x1="463.08" y1="511.6" x2="463.08" y2="532" stroke="#444" stroke-width="1"/>
<line x1="474.02" y1="511.6" x2="474.02" y2="532" stroke="#444" stroke-width="1"/>
<line x1="484.96" y1="511.6" x2="484.96" y2="532" stroke="#444" stroke-width="1"/>
<line x1="495.9" y1="511.6" x2="495.9" y2="532" stroke="#444" stroke-width="1"/>
<line x1="506.84" y1="511.6" x2="506.84" y2="532" stroke="#444" stroke-width="1"/>
<line x1="517.78" y1="511.6" x2="517.78" y2="532" stroke="#444" stroke-width="1"/>
<line x1="528.72" y1="511.6" x2="528.72" y2="532" stroke="#444" stroke-width="1"/>
<line x1="539.66" y1="511.6" x2="539.66" y2="532" stroke="#444" stroke-width="1"/>
<line x1="550.6" y1="511.6" x2="550.6" y2="532" stroke="#444" stroke-width="1"/>
<text x="391.97" y="520.02" font-size="8.3" text-anchor="middle" fill="#222">60</text>
<text x="402.91" y="520.02" font-size="8.3" text-anchor="middle" fill="#222">59</text>
<text x="413.85" y="520.02" font-size="8.3" text-anchor="middle" fill="#222">58</text>
<text x="424.79" y="520.02" font-size="8.3" text-anchor="middle" fill="#222">57</text>
<text x="435.73" y="520.02" font-size="8.3" text-anchor="middle" fill="#222">56</text>
<text x="446.67" y="520.02" font-size="8.3" text-anchor="middle" fill="#222">55</text>
<text x="457.61" y="520.02" font-size="8.3" text-anchor="middle" fill="#222">54</text>
<text x="468.55" y="520.02" font-size="8.3" text-anchor="middle" fill="#222">53</text>
<text x="479.49" y="520.02" font-size="8.3" text-anchor="middle" fill="#222">52</text>
<text x="490.43" y="520.02" font-size="8.3" text-anchor="middle" fill="#222">51</text>
<text x="501.37" y="520.02" font-size="8.3" text-anchor="middle" fill="#222">50</text>
<text x="512.31" y="520.02" font-size="8.3" text-anchor="middle" fill="#222">49</text>
<text x="523.25" y="520.02" font-size="8.3" text-anchor="middle" fill="#222">48</text>
<text x="534.19" y="520.02" font-size="8.3" text-anchor="middle" fill="#222">47</text>
<text x="545.13" y="520.02" font-size="8.3" text-anchor="middle" fill="#222">46</text>
<text x="391.97" y="530.22" font-size="8.3" text-anchor="middle" fill="#222">45</text>
<text x="402.91" y="530.22" font-size="8.3" text-anchor="middle" fill="#222">44</text>
<text x="413.85" y="530.22" font-size="8.3" text-anchor="middle" fill="#222">43</text>
<text x="424.79" y="530.22" font-size="8.3" text-anchor="middle" fill="#222">42</text>
<text x="435.73" y="530.22" font-size="8.3" text-anchor="middle" fill="#222">41</text>
<text x="446.67" y="530.22" font-size="8.3" text-anchor="middle" fill="#222">40</text>
<text x="457.61" y="530.22" font-size="8.3" text-anchor="middle" fill="#222">39</text>
<text x="468.55" y="530.22" font-size="8.3" text-anchor="middle" fill="#222">38</text>
<text x="479.49" y="530.22" font-size="8.3" text-anchor="middle" fill="#222">37</text>
<text x="490.43" y="530.22" font-size="8.3" text-anchor="middle" fill="#222">36</text>
<text x="501.37" y="530.22" font-size="8.3" text-anchor="middle" fill="#222">35</text>
<text x="512.31" y="530.22" font-size="8.3" text-anchor="middle" fill="#222">34</text>
<text x="523.25" y="530.22" font-size="8.3" text-anchor="middle" fill="#222">33</text>
<text x="534.19" y="530.22" font-size="8.3" text-anchor="middle" fill="#222">32</text>
<text x="545.13" y="530.22" font-size="8.3" text-anchor="middle" fill="#222">31</text>
<rect x="495.9" y="545.1" width="10.939999999999998" height="10.299999999999955" fill="#a3d2da"/>
<rect x="495.9" y="555.4" width="10.939999999999998" height="9.800000000000068" fill="#a3d2da"/>
<line x1="386.5" y1="545.1" x2="550.6" y2="545.1" stroke="#444" stroke-width="1"/>
<line x1="386.5" y1="555.4" x2="550.6" y2="555.4" stroke="#444" stroke-width="1"/>
<line x1="386.5" y1="565.2" x2="550.6" y2="565.2" stroke="#444" stroke-width="1"/>
<line x1="386.5" y1="545.1" x2="386.5" y2="565.2" stroke="#444" stroke-width="1"/>
<line x1="397.44" y1="545.1" x2="397.44" y2="565.2" stroke="#444" stroke-width="1"/>
<line x1="408.38" y1="545.1" x2="408.38" y2="565.2" stroke="#444" stroke-width="1"/>
<line x1="419.32" y1="545.1" x2="419.32" y2="565.2" stroke="#444" stroke-width="1"/>
<line x1="430.26" y1="545.1" x2="430.26" y2="565.2" stroke="#444" stroke-width="1"/>
<line x1="441.2" y1="545.1" x2="441.2" y2="565.2" stroke="#444" stroke-width="1"/>
<line x1="452.14" y1="545.1" x2="452.14" y2="565.2" stroke="#444" stroke-width="1"/>
<line x1="463.08" y1="545.1" x2="463.08" y2="565.2" stroke="#444" stroke-width="1"/>
<line x1="474.02" y1="545.1" x2="474.02" y2="565.2" stroke="#444" stroke-width="1"/>
<line x1="484.96" y1="545.1" x2="484.96" y2="565.2" stroke="#444" stroke-width="1"/>
<line x1="495.9" y1="545.1" x2="495.9" y2="565.2" stroke="#444" stroke-width="1"/>
<line x1="506.84" y1="545.1" x2="506.84" y2="565.2" stroke="#444" stroke-width="1"/>
<line x1="517.78" y1="545.1" x2="517.78" y2="565.2" stroke="#444" stroke-width="1"/>
<line x1="528.72" y1="545.1" x2="528.72" y2="565.2" stroke="#444" stroke-width="1"/>
<line x1="539.66" y1="545.1" x2="539.66" y2="565.2" stroke="#444" stroke-width="1"/>
<line x1="550.6" y1="545.1" x2="550.6" y2="565.2" stroke="#444" stroke-width="1"/>
<text x="391.97" y="553.32" font-size="8.3" text-anchor="middle" fill="#222">30</text>
<text x="402.91" y="553.32" font-size="8.3" text-anchor="middle" fill="#222">29</text>
<text x="413.85" y="553.32" font-size="8.3" text-anchor="middle" fill="#222">28</text>
<text x="424.79" y="553.32" font-size="8.3" text-anchor="middle" fill="#222">27</text>
<text x="435.73" y="553.32" font-size="8.3" text-anchor="middle" fill="#222">26</text>
<text x="446.67" y="553.32" font-size="8.3" text-anchor="middle" fill="#222">25</text>
<text x="457.61" y="553.32" font-size="8.3" text-anchor="middle" fill="#222">24</text>
<text x="468.55" y="553.32" font-size="8.3" text-anchor="middle" fill="#222">23</text>
<text x="479.49" y="553.32" font-size="8.3" text-anchor="middle" fill="#222">22</text>
<text x="490.43" y="553.32" font-size="8.3" text-anchor="middle" fill="#222">21</text>
<text x="501.37" y="553.32" font-size="8.3" text-anchor="middle" fill="#222">20</text>
<text x="512.31" y="553.32" font-size="8.3" text-anchor="middle" fill="#222">19</text>
<text x="523.25" y="553.32" font-size="8.3" text-anchor="middle" fill="#222">18</text>
<text x="534.19" y="553.32" font-size="8.3" text-anchor="middle" fill="#222">17</text>
<text x="545.13" y="553.32" font-size="8.3" text-anchor="middle" fill="#222">16</text>
<text x="391.97" y="563.37" font-size="8.3" text-anchor="middle" fill="#222">15</text>
<text x="402.91" y="563.37" font-size="8.3" text-anchor="middle" fill="#222">14</text>
<text x="413.85" y="563.37" font-size="8.3" text-anchor="middle" fill="#222">13</text>
<text x="424.79" y="563.37" font-size="8.3" text-anchor="middle" fill="#222">12</text>
<text x="435.73" y="563.37" font-size="8.3" text-anchor="middle" fill="#222">11</text>
<text x="446.67" y="563.37" font-size="8.3" text-anchor="middle" fill="#222">10</text>
<text x="457.61" y="563.37" font-size="8.3" text-anchor="middle" fill="#222">9</text>
<text x="468.55" y="563.37" font-size="8.3" text-anchor="middle" fill="#222">8</text>
<text x="479.49" y="563.37" font-size="8.3" text-anchor="middle" fill="#222">7</text>
<text x="490.43" y="563.37" font-size="8.3" text-anchor="middle" fill="#222">6</text>
<text x="501.37" y="563.37" font-size="8.3" text-anchor="middle" fill="#222">5</text>
<text x="512.31" y="563.37" font-size="8.3" text-anchor="middle" fill="#222">4</text>
<text x="523.25" y="563.37" font-size="8.3" text-anchor="middle" fill="#222">3</text>
<text x="534.19" y="563.37" font-size="8.3" text-anchor="middle" fill="#222">2</text>
<text x="545.13" y="563.37" font-size="8.3" text-anchor="middle" fill="#222">1</text>
<rect x="390.3" y="535" width="37.30000000000001" height="5.4" stroke="#444" stroke-width="1" fill="none"/>
<rect x="450" y="535" width="37.60000000000002" height="5.4" stroke="#444" stroke-width="1" fill="none"/>
<rect x="509.4" y="535" width="37.39999999999998" height="5.4" stroke="#444" stroke-width="1" fill="none"/>
<text x="478" y="602.9" font-size="10.5" font-weight="bold" text-anchor="middle" fill="#111">C200-A</text>
<text x="478" y="615.2" font-size="10.5" font-weight="bold" text-anchor="middle" fill="#111">ECM</text>
</svg>
</body></html>
